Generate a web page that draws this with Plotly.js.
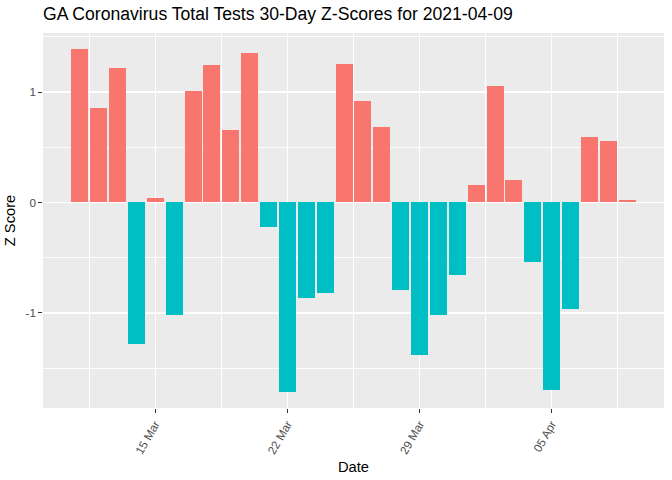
<!DOCTYPE html>
<html>
<head>
<meta charset="utf-8">
<script src="https://cdn.plot.ly/plotly-3.0.1.min.js"></script>
<style>html,body{margin:0;padding:0;background:#fff;}#chart{width:672px;height:480px;}</style>
</head>
<body>
<div id="chart"></div>
<script>
const dates = [
  '2021-03-11','2021-03-12','2021-03-13','2021-03-14','2021-03-15','2021-03-16','2021-03-17','2021-03-18','2021-03-19','2021-03-20',
  '2021-03-21','2021-03-22','2021-03-23','2021-03-24','2021-03-25','2021-03-26','2021-03-27','2021-03-28','2021-03-29','2021-03-30',
  '2021-03-31','2021-04-01','2021-04-02','2021-04-03','2021-04-04','2021-04-05','2021-04-06','2021-04-07','2021-04-08','2021-04-09'
];
const zScores = [
  1.387, 0.853, 1.215, -1.282, 0.042, -1.020, 1.007, 1.245, 0.657, 1.354,
  -0.221, -1.717, -0.863, -0.821, 1.254, 0.920, 0.681, -0.790, -1.379, -1.017,
  -0.655, 0.157, 1.052, 0.202, -0.537, -1.695, -0.963, 0.591, 0.555, 0.021
];
const xTickVals = ['2021-03-15','2021-03-22','2021-03-29','2021-04-05'];
const xTickText = ['15 Mar','22 Mar','29 Mar','05 Apr'];
const xMinorVals = ['2021-03-11 12:00','2021-03-18 12:00','2021-03-25 12:00','2021-04-01 12:00','2021-04-08 12:00'];
const yTickVals = [-1, 0, 1];
const yTickText = ['-1', '0', '1'];
const yMinorVals = [-1.5, -0.5, 0.5, 1.5];

const DAY = 86400000;
const colors = zScores.map(v => v >= 0 ? '#F8766D' : '#00BFC4');

const trace = {
  type: 'bar',
  x: dates,
  y: zScores,
  width: dates.map(() => 0.9 * DAY),
  marker: {color: colors, line: {width: 0}},
  hoverinfo: 'x+y'
};

const font = 'Liberation Sans, Arial, sans-serif';
const layout = {
  width: 672, height: 480,
  margin: {l: 43, r: 8, t: 33, b: 72},
  paper_bgcolor: '#FFFFFF',
  plot_bgcolor: '#EBEBEB',
  showlegend: false,
  bargap: 0,
  font: {family: font, color: '#000000'},
  title: {
    text: 'GA Coronavirus Total Tests 30-Day Z-Scores for 2021-04-09',
    font: {family: font, size: 17.6, color: '#000000'},
    xref: 'paper', x: 0, xanchor: 'left',
    yref: 'container', y: 1 - 14/480, yanchor: 'middle'
  },
  xaxis: {
    type: 'date',
    range: ['2021-03-09 01:19', '2021-04-10 22:41'],
    tickmode: 'array', tickvals: xTickVals, ticktext: xTickText,
    tickangle: -60,
    tickfont: {family: font, size: 11.7, color: '#4D4D4D'},
    ticks: 'outside', ticklen: 3.65, tickwidth: 1.07, tickcolor: '#333333',
    showgrid: true, gridcolor: '#FFFFFF', gridwidth: 1.4,
    minor: {tickmode: 'array', tickvals: xMinorVals, showgrid: true, gridcolor: '#FFFFFF', gridwidth: 1, ticks: ''},
    zeroline: false, showline: false,
    title: {text: 'Date', font: {family: font, size: 14.7, color: '#000000'}, standoff: 6}
  },
  yaxis: {
    range: [-1.862, 1.535],
    tickmode: 'array', tickvals: yTickVals, ticktext: yTickText,
    tickfont: {family: font, size: 11.7, color: '#4D4D4D'},
    ticks: 'outside', ticklen: 3.65, tickwidth: 1.07, tickcolor: '#333333',
    showgrid: true, gridcolor: '#FFFFFF', gridwidth: 1.4,
    minor: {tickmode: 'array', tickvals: yMinorVals, showgrid: true, gridcolor: '#FFFFFF', gridwidth: 1, ticks: ''},
    zeroline: false, showline: false,
    title: {text: 'Z Score', font: {family: font, size: 14.7, color: '#000000'}, standoff: 6}
  }
};

Plotly.newPlot('chart', [trace], layout, {displayModeBar: false, staticPlot: true});
</script>
</body>
</html>
